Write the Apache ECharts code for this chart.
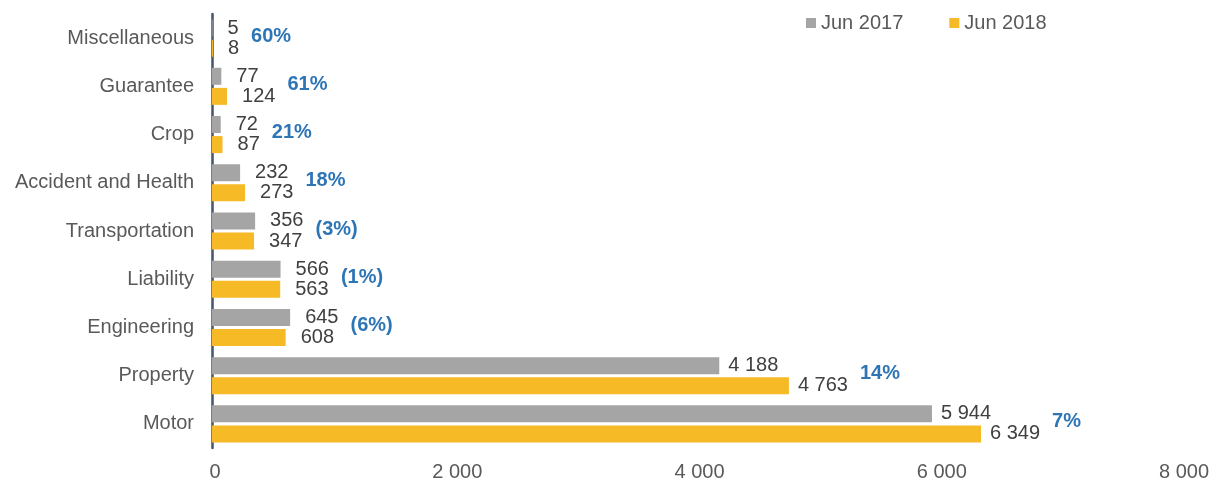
<!DOCTYPE html>
<html>
<head>
<meta charset="utf-8">
<script src="https://cdn.jsdelivr.net/npm/echarts@6/dist/echarts.min.js"></script>
<style>
  html, body { margin: 0; padding: 0; background: #fff; }
  #chart { width: 1215px; height: 484px; }
</style>
</head>
<body>
<div id="chart"></div>
<script>
// Gross written premium by line of business (bottom to top)
const categories = ['Motor', 'Property', 'Engineering', 'Liability', 'Transportation',
  'Accident and Health', 'Crop', 'Guarantee', 'Miscellaneous'];
const jun2017 = [5944, 4188, 645, 566, 356, 232, 72, 77, 5];
const jun2018 = [6349, 4763, 608, 563, 347, 273, 87, 124, 8];
// Year-on-year change, in percent
const growth = [7, 14, -6, -1, -3, 18, 21, 61, 60];
const xTicks = [0, 2000, 4000, 6000, 8000];

const FONT = '"Liberation Sans", Arial, sans-serif';

function fmtNum(v) {
  return String(v).replace(/\B(?=(\d{3})+(?!\d))/g, ' ');
}
function fmtPct(p) {
  return p < 0 ? '(' + Math.abs(p) + '%)' : p + '%';
}
// gap between bar end and its value label
function labelGap(v) {
  return v >= 1000 ? 9 : 15;
}

const measureCtx = document.createElement('canvas').getContext('2d');
measureCtx.font = '20px ' + FONT;
function textWidth(s) { return measureCtx.measureText(s).width; }

function barData(values) {
  return values.map(v => ({ value: v, label: { distance: labelGap(v) } }));
}

// the growth label sits to the right of the longer bar's value label
const labelEnds = categories.map((c, i) => ({
  a: { v: jun2017[i], w: labelGap(jun2017[i]) + textWidth(fmtNum(jun2017[i])) },
  b: { v: jun2018[i], w: labelGap(jun2018[i]) + textWidth(fmtNum(jun2018[i])) }
}));

const chart = echarts.init(document.getElementById('chart'), null, { renderer: 'canvas' });

const valueLabel = {
  show: true, position: 'right', fontSize: 20, color: '#404040', fontFamily: FONT,
  formatter: p => fmtNum(p.value)
};

const option = {
  animation: false,
  textStyle: { fontFamily: FONT },
  legend: {
    data: ['Jun 2017', 'Jun 2018'],
    left: 801,
    top: 8,
    icon: 'rect',
    itemWidth: 10,
    itemHeight: 10,
    itemGap: 46,
    textStyle: { fontSize: 20, color: '#595959', fontFamily: FONT }
  },
  grid: { left: 212, right: 34, top: 14, bottom: 36, containLabel: false },
  xAxis: {
    type: 'value',
    min: xTicks[0],
    max: xTicks[xTicks.length - 1],
    interval: xTicks[1] - xTicks[0],
    axisLine: { show: false },
    axisTick: { show: false },
    splitLine: { show: false },
    axisLabel: {
      fontSize: 20, color: '#595959', fontFamily: FONT, margin: 14,
      padding: [0, 0, 0, 6],
      formatter: v => fmtNum(v)
    }
  },
  yAxis: {
    type: 'category',
    data: categories,
    axisLine: { show: true, lineStyle: { color: '#44546A', width: 2.5 } },
    axisTick: { show: false },
    axisLabel: { fontSize: 20, color: '#595959', fontFamily: FONT, margin: 18 }
  },
  series: [
    {
      name: 'Jun 2017',
      type: 'bar',
      data: barData(jun2017),
      barWidth: 17,
      barGap: '18%',
      itemStyle: { color: '#A5A5A5' },
      label: valueLabel
    },
    {
      name: 'Jun 2018',
      type: 'bar',
      data: barData(jun2018),
      barWidth: 17,
      barGap: '18%',
      itemStyle: { color: '#F7BA27' },
      label: valueLabel
    },
    {
      name: 'growth',
      type: 'custom',
      z: 5,
      data: categories.map((c, i) => [i]),
      renderItem: (params, api) => {
        const i = api.value(0);
        const e = labelEnds[i];
        const xa = api.coord([e.a.v, i])[0] + e.a.w;
        const xb = api.coord([e.b.v, i])[0] + e.b.w;
        const y = api.coord([0, i])[1];
        return {
          type: 'text',
          x: Math.max(xa, xb) + 12,
          y: y - 2,
          style: {
            text: fmtPct(growth[i]),
            fill: '#2E75B6',
            font: 'bold 20px ' + FONT,
            verticalAlign: 'middle',
            align: 'left'
          }
        };
      }
    }
  ]
};

chart.setOption(option);
</script>
</body>
</html>
